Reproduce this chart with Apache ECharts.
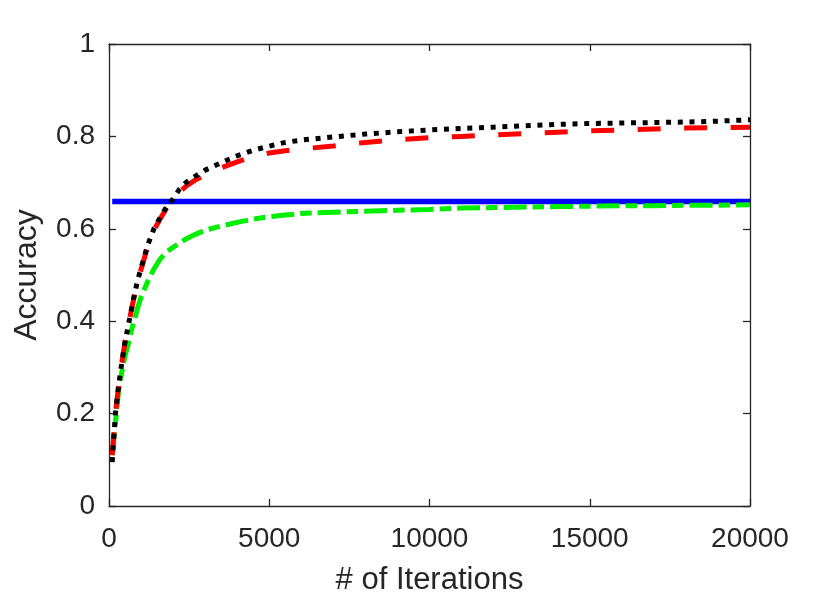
<!DOCTYPE html>
<html>
<head>
<meta charset="utf-8">
<script src="https://cdn.jsdelivr.net/npm/echarts@6/dist/echarts.min.js"></script>
<style>
html,body{margin:0;padding:0;background:#fff;}
#chart{width:830px;height:601px;}
</style>
</head>
<body>
<div id="chart"></div>
<script>
var iterations = [100, 200, 300, 400, 500, 600, 700, 800, 900, 1000, 1200, 1400, 1600, 1800, 2000, 2200, 2400, 2700, 3000, 3500, 4000, 4500, 5000, 5500, 6000, 7000, 8000, 9000, 10000, 11000, 12000, 13000, 14000, 15000, 16000, 17000, 18000, 19000, 20000];

var blackAcc = [0.095, 0.20, 0.26, 0.31, 0.355, 0.39, 0.425, 0.46, 0.49, 0.515, 0.563, 0.60, 0.625, 0.648, 0.665, 0.686, 0.70, 0.714, 0.727, 0.743, 0.758, 0.77, 0.779, 0.787, 0.792, 0.799, 0.805, 0.81, 0.814, 0.817, 0.82, 0.823, 0.826, 0.828, 0.829, 0.83, 0.831, 0.833, 0.836];

var redAcc = [0.11, 0.20, 0.26, 0.31, 0.355, 0.39, 0.425, 0.458, 0.487, 0.512, 0.56, 0.597, 0.622, 0.645, 0.662, 0.68, 0.692, 0.706, 0.716, 0.732, 0.745, 0.756, 0.764, 0.769, 0.773, 0.779, 0.787, 0.793, 0.797, 0.80, 0.803, 0.806, 0.809, 0.812, 0.814, 0.816, 0.818, 0.819, 0.82];

var greenAcc = [0.11, 0.18, 0.25, 0.29, 0.325, 0.35, 0.38, 0.405, 0.43, 0.452, 0.485, 0.513, 0.535, 0.55, 0.56, 0.569, 0.578, 0.588, 0.597, 0.606, 0.614, 0.621, 0.626, 0.63, 0.633, 0.636, 0.638, 0.64, 0.642, 0.645, 0.646, 0.647, 0.648, 0.649, 0.65, 0.65, 0.651, 0.651, 0.652];

var blueIters = [100, 20000];
var blueAcc = [0.659, 0.659];

var xTicks = [0, 5000, 10000, 15000, 20000];
var yTicks = [0, 0.2, 0.4, 0.6, 0.8, 1];

function pairs(xs, ys) {
  return xs.map(function (x, i) { return [x, ys[i]]; });
}

var axisColor = '#262626';
var fontFam = '"Liberation Sans", Arial, Helvetica, sans-serif';

var chart = echarts.init(document.getElementById('chart'), null, {renderer: 'canvas'});

function baseAxis(extra) {
  var a = {
    type: 'value',
    axisLine: {show: true, onZero: false, lineStyle: {color: axisColor, width: 1.3}},
    axisTick: {show: true, inside: true, length: 7, lineStyle: {color: axisColor, width: 1.3}},
    splitLine: {show: false}
  };
  for (var k in extra) a[k] = extra[k];
  return a;
}

var option = {
  backgroundColor: '#ffffff',
  animation: false,
  grid: {left: 109, right: 80, top: 44, bottom: 95, containLabel: false},
  xAxis: [
    baseAxis({
      position: 'bottom',
      min: xTicks[0], max: xTicks[xTicks.length - 1], interval: xTicks[1] - xTicks[0],
      name: '# of Iterations', nameLocation: 'middle', nameGap: 59,
      nameTextStyle: {fontSize: 31, color: axisColor, fontFamily: fontFam},
      axisLabel: {fontSize: 28, color: axisColor, fontFamily: fontFam, margin: 19, showMinLabel: true, showMaxLabel: true,
        formatter: function (v) { return String(v); }}
    }),
    baseAxis({
      position: 'top',
      min: xTicks[0], max: xTicks[xTicks.length - 1], interval: xTicks[1] - xTicks[0],
      axisLabel: {show: false}
    })
  ],
  yAxis: [
    baseAxis({
      position: 'left',
      min: yTicks[0], max: yTicks[yTicks.length - 1], interval: yTicks[1] - yTicks[0],
      name: 'Accuracy', nameLocation: 'middle', nameGap: 66,
      nameTextStyle: {fontSize: 32, color: axisColor, fontFamily: fontFam},
      axisLabel: {fontSize: 28, color: axisColor, fontFamily: fontFam, margin: 14, showMinLabel: true, showMaxLabel: true,
        formatter: function (v) { return String(Math.round(v * 10) / 10); }}
    }),
    baseAxis({
      position: 'right',
      min: yTicks[0], max: yTicks[yTicks.length - 1], interval: yTicks[1] - yTicks[0],
      axisLabel: {show: false}
    })
  ],
  series: [
    {
      name: 'Blue', type: 'line', showSymbol: false, symbol: 'none',
      data: pairs(blueIters, blueAcc),
      lineStyle: {color: '#0000ff', width: 5.5, type: 'solid'}, z: 2
    },
    {
      name: 'Green', type: 'line', showSymbol: false, symbol: 'none',
      data: pairs(iterations, greenAcc),
      lineStyle: {color: '#00ee00', width: 5, type: [23, 6, 11.5, 6], cap: 'butt'}, z: 3
    },
    {
      name: 'Red', type: 'line', showSymbol: false, symbol: 'none',
      data: pairs(iterations, redAcc),
      lineStyle: {color: '#ff0000', width: 5, type: [23, 23.5], cap: 'butt'}, z: 4
    },
    {
      name: 'Black', type: 'line', showSymbol: false, symbol: 'none',
      data: pairs(iterations, blackAcc),
      lineStyle: {color: '#000000', width: 5, type: [5, 6.7], cap: 'butt'}, z: 5
    }
  ]
};
chart.setOption(option);
</script>
</body>
</html>
